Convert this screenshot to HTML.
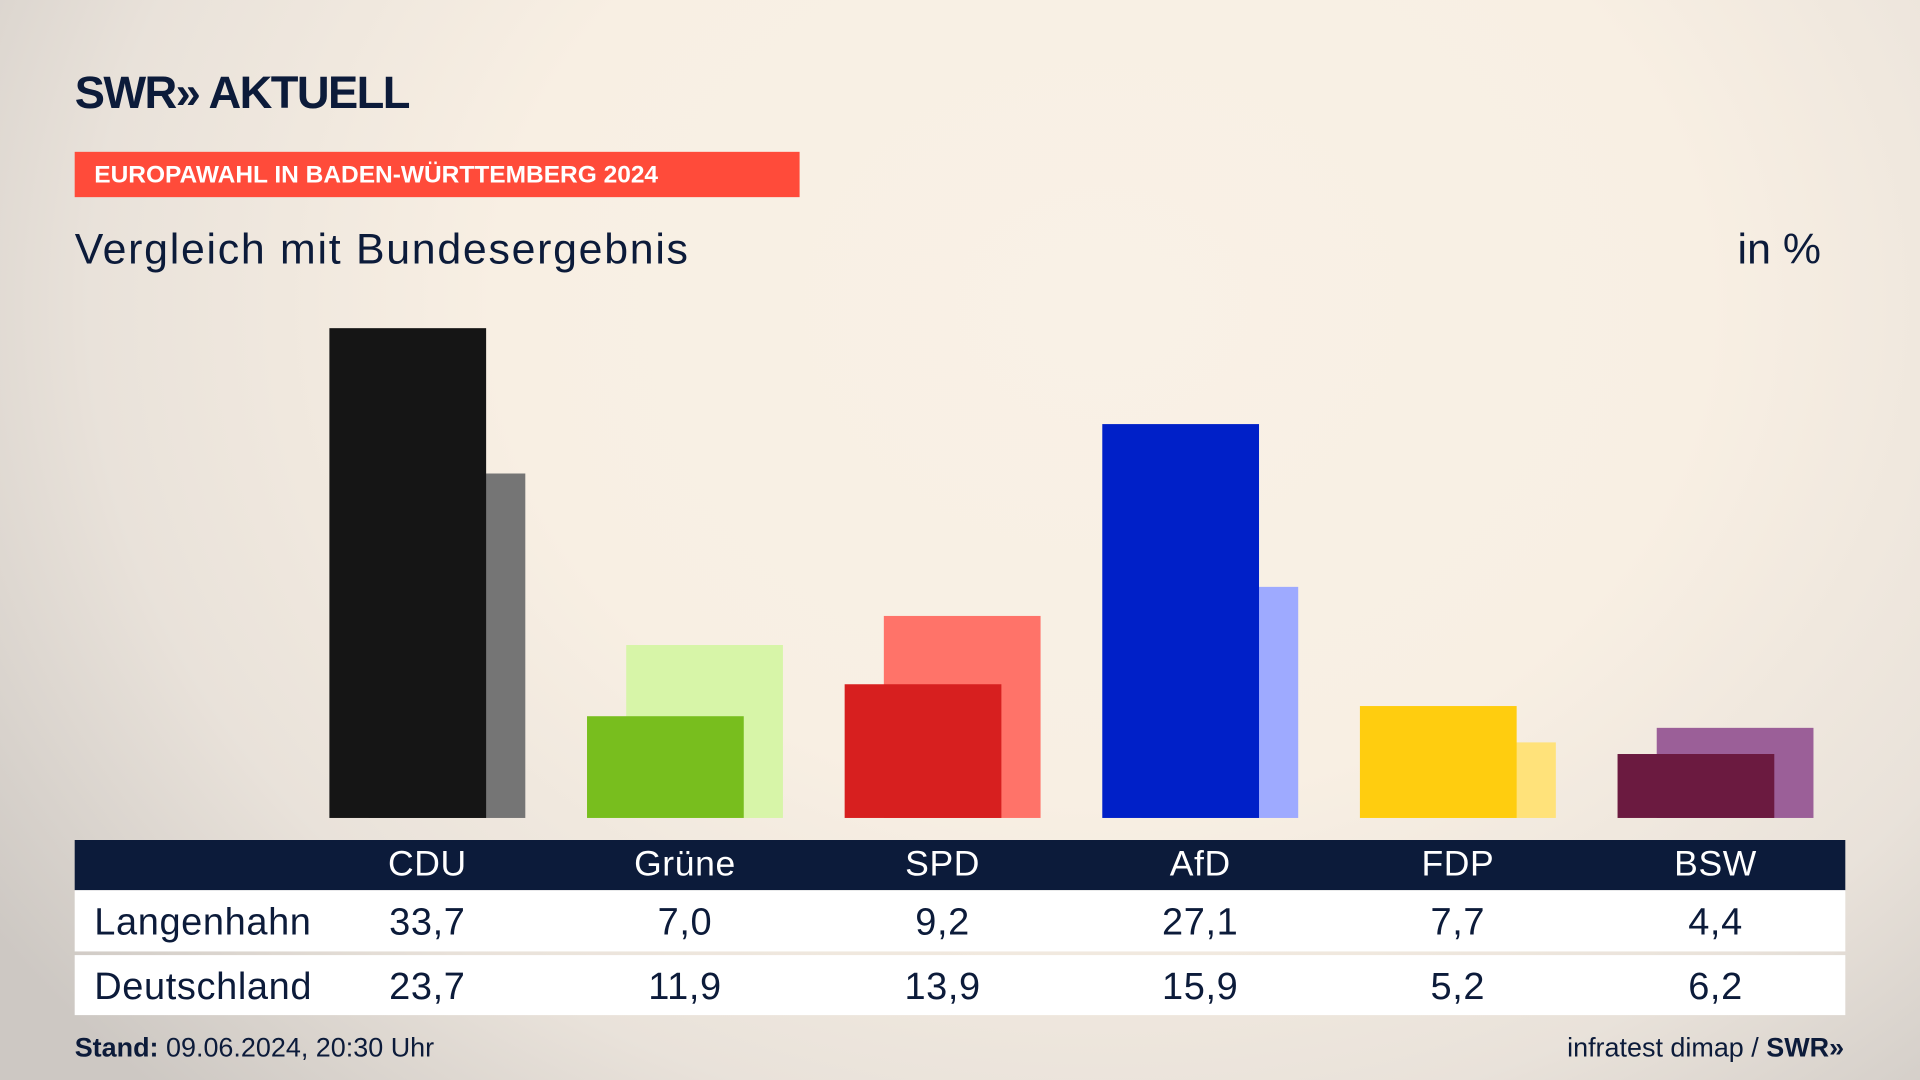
<!DOCTYPE html>
<html><head><meta charset="utf-8">
<style>
html,body{margin:0;padding:0;width:1920px;height:1080px;overflow:hidden;}
#stage{position:absolute;left:0;top:0;width:1568px;height:882px;transform:scale(1.2244898);transform-origin:0 0;
background:radial-gradient(ellipse 1100px 900px at 900px 250px,#f9f1e6 0%,#f8efe3 45%,#e9e2da 75%,#cdc8c3 100%);
font-family:"Liberation Sans","DejaVu Sans",sans-serif;color:#0c1b3a;overflow:hidden;}
.abs{position:absolute;}
.cell{position:absolute;text-align:center;width:160px;font-size:31px;letter-spacing:0.5px;}
</style></head><body>
<div id="stage">
<div class="abs" style="left:61px;top:55px;font-size:37px;font-weight:bold;letter-spacing:-1.3px;color:#0c1b3a;">SWR» AKTUELL</div>
<div class="abs" style="left:61px;top:124px;width:592px;height:37px;background:#ff4b3a;color:#fff;font-weight:bold;font-size:20px;line-height:39px;padding-left:16px;box-sizing:border-box;">EUROPAWAHL IN BADEN-WÜRTTEMBERG 2024</div>
<div class="abs" style="left:61px;top:184px;font-size:35px;letter-spacing:1.4px;">Vergleich mit Bundesergebnis</div>
<div class="abs" style="left:1419px;top:184px;font-size:35px;">in %</div>
<svg class="abs" id="bars" style="left:0;top:0" width="1568" height="882"></svg>
<div class="abs" style="left:61px;top:686px;width:1446px;height:41px;background:#0c1b3a;"></div>
<div class="abs" style="left:61px;top:727px;width:1446px;height:50px;background:#fff;"></div>
<div class="abs" style="left:61px;top:780px;width:1446px;height:49px;background:#fff;"></div>
<div class="abs" style="left:77px;top:735px;font-size:31px;letter-spacing:0.5px;">Langenhahn</div>
<div class="abs" style="left:77px;top:788px;font-size:31px;letter-spacing:0.5px;">Deutschland</div>
<div id="cells"></div>
<div class="abs" style="left:61px;top:843px;font-size:22px;"><b>Stand:</b> 09.06.2024, 20:30 Uhr</div>
<div class="abs" style="right:62px;top:843px;font-size:22px;">infratest dimap / <b>SWR»</b></div>
</div>
<script>
const parties=["CDU","Grüne","SPD","AfD","FDP","BSW"];
const local=[33.7,7.0,9.2,27.1,7.7,4.4];
const national=[23.7,11.9,13.9,15.9,5.2,6.2];
const localLabels=["33,7","7,0","9,2","27,1","7,7","4,4"];
const nationalLabels=["23,7","11,9","13,9","15,9","5,2","6,2"];
const frontColors=["#151515","#78be1e","#d71f1f","#0020c8","#ffcd0f","#6b1a40"];
const backColors=["#757575","#d7f5a8","#ff7369","#9eaaff","#ffe27a","#9b5f98"];
const base=668, k=400/33.7;
const cx=i=>349+i*210.4;
const y=v=>base-v*k;
const svg=document.getElementById('bars');
const NS="http://www.w3.org/2000/svg";
parties.forEach((p,i)=>{
  const b=document.createElementNS(NS,'rect');
  b.setAttribute('x',cx(i)-48);b.setAttribute('width',128);
  b.setAttribute('y',y(national[i]));b.setAttribute('height',base-y(national[i]));
  b.setAttribute('fill',backColors[i]);
  
  
  svg.appendChild(b);
  const f=document.createElementNS(NS,'rect');
  f.setAttribute('x',cx(i)-80);f.setAttribute('width',128);
  f.setAttribute('y',y(local[i]));f.setAttribute('height',base-y(local[i]));
  f.setAttribute('fill',frontColors[i]);
  
  
  svg.appendChild(f);
});
const st=document.getElementById('stage');
parties.forEach((p,i)=>{
  const rows=[[p,690,'#fff','party-header'],[localLabels[i],735,'#0c1b3a','value-local'],[nationalLabels[i],788,'#0c1b3a','value-national']];
  rows.forEach(r=>{
    const d=document.createElement('div');
    d.className='cell';d.textContent=r[0];
    d.style.left=(cx(i)-80)+'px';d.style.top=r[1]+'px';d.style.color=r[2];
    if(r[3]==='party-header')d.style.fontSize='29px';
    
    
    st.appendChild(d);
  });
});
</script>
</body></html>
